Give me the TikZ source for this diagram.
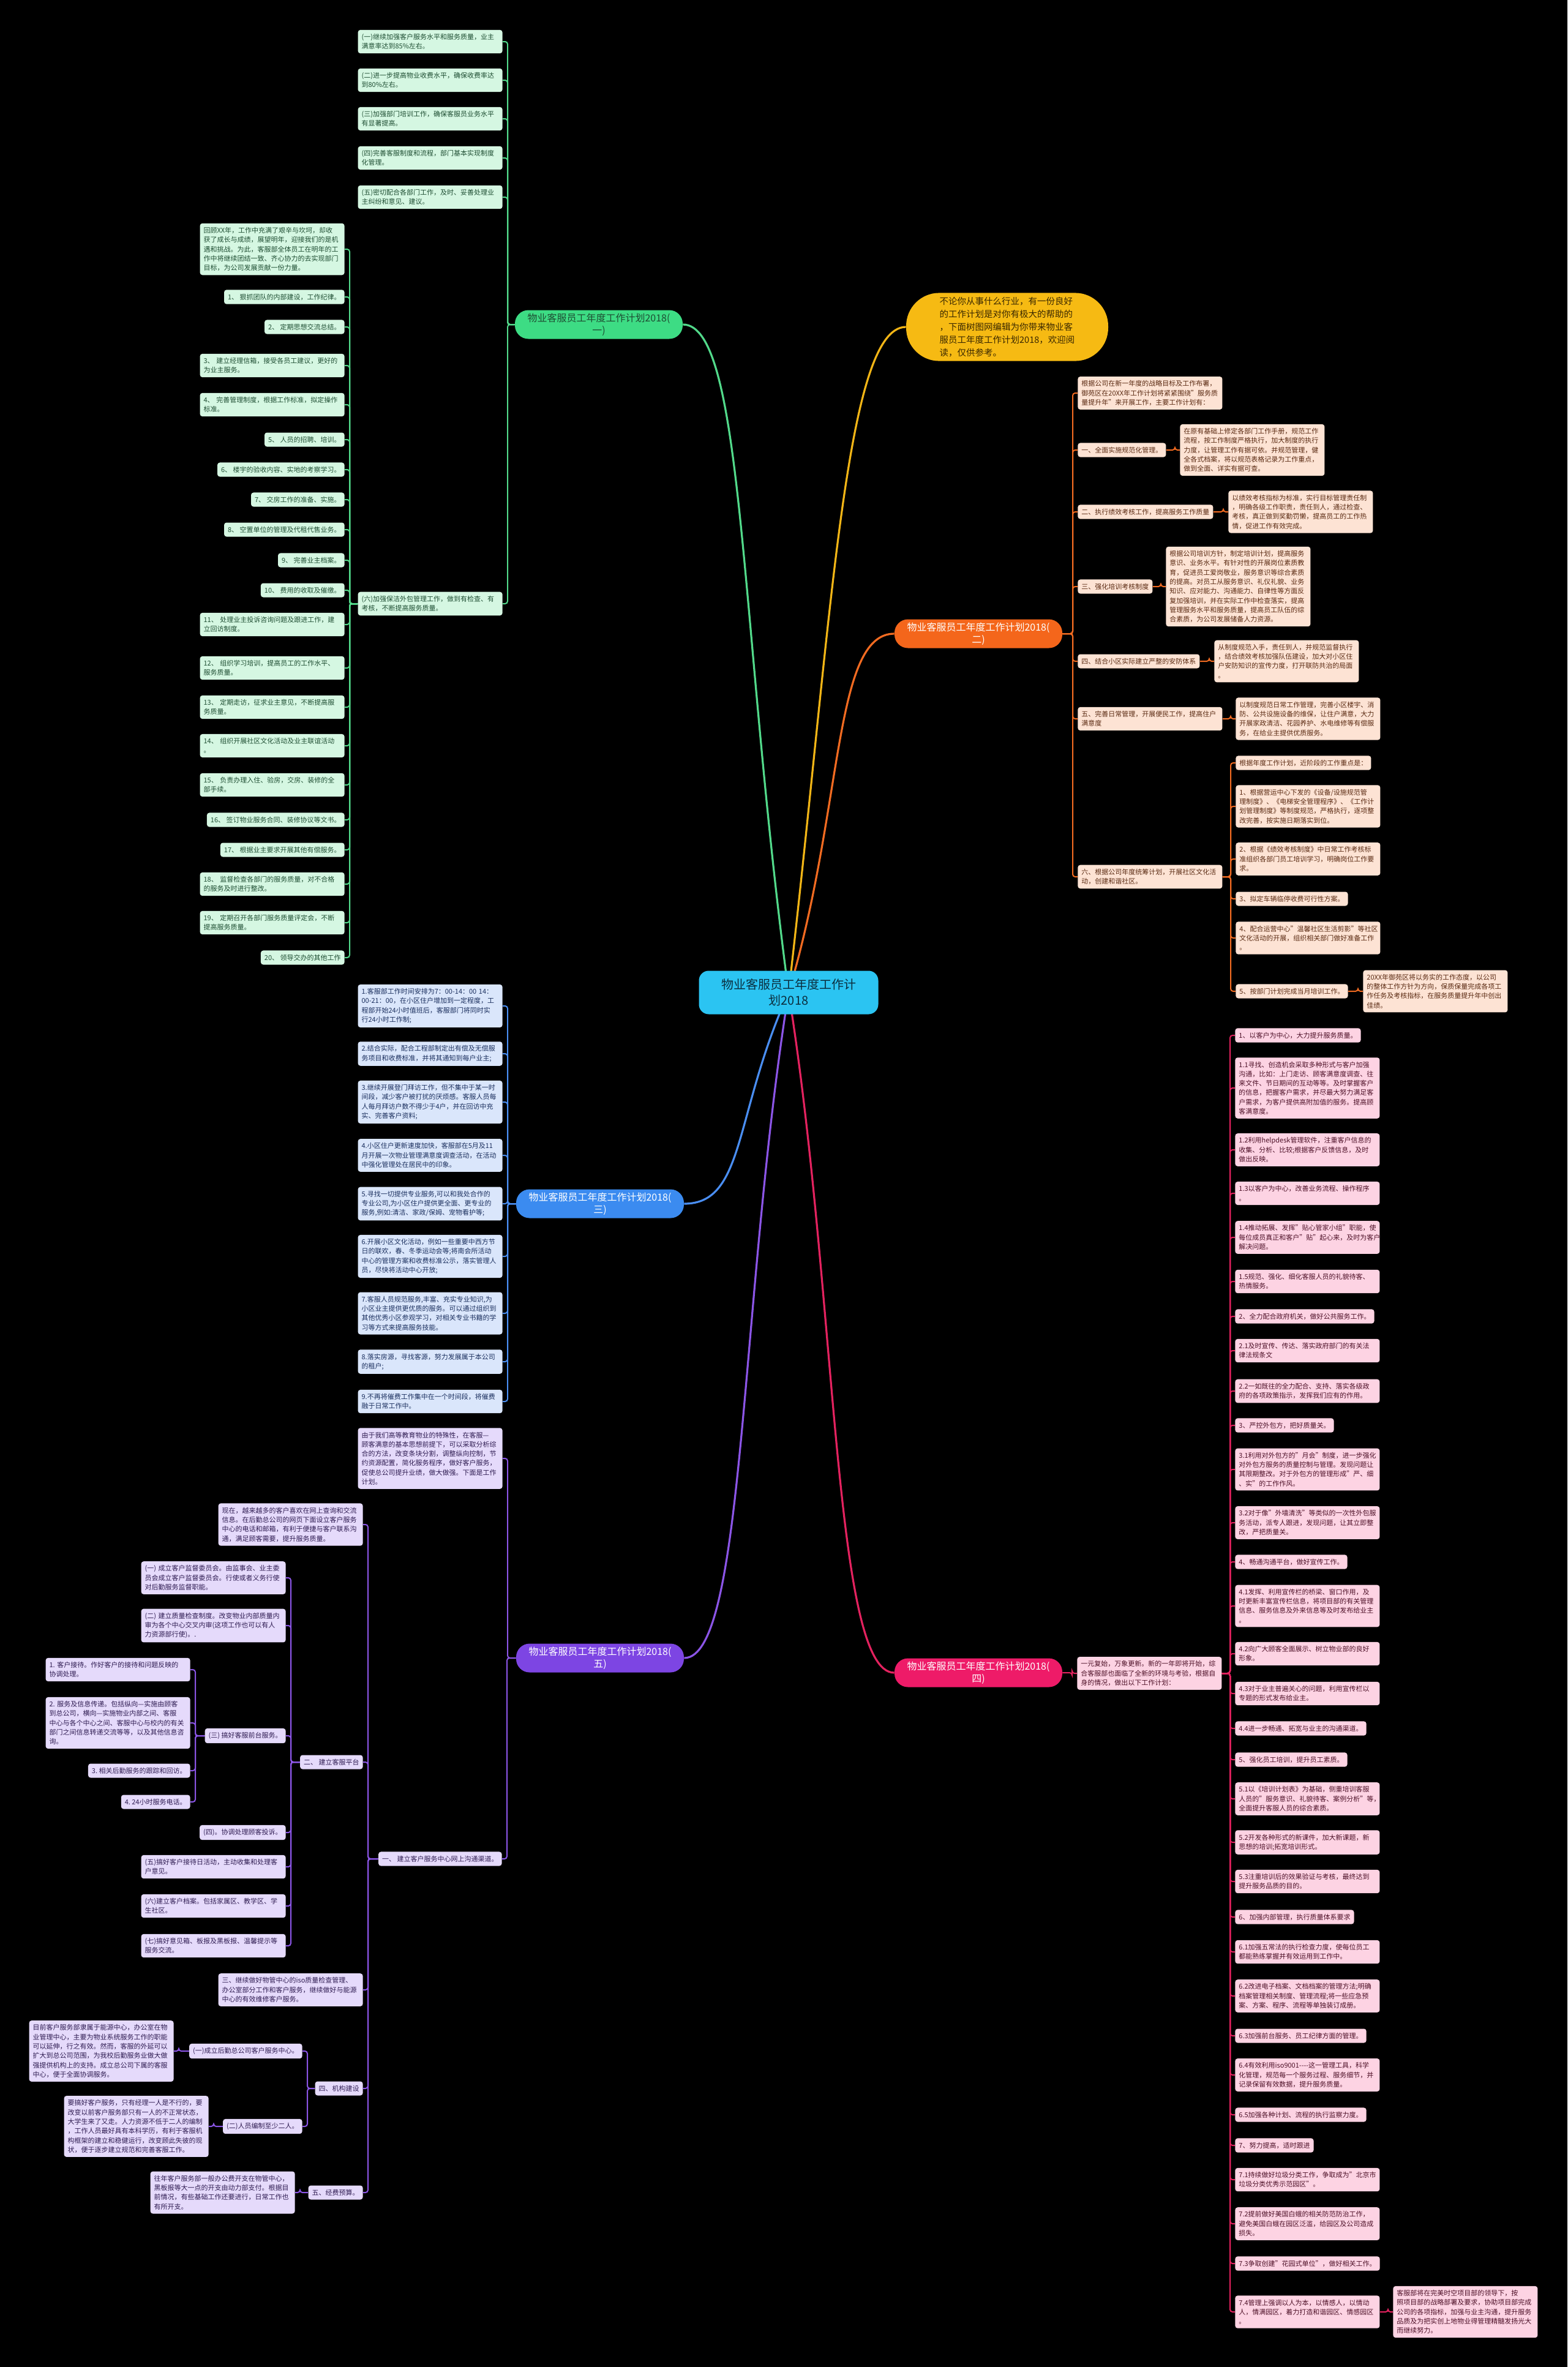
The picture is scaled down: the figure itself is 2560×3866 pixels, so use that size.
\documentclass[tikz,border=0pt]{standalone}
\usepackage{fontspec}
\setmainfont{Noto Sans CJK SC}
\usetikzlibrary{backgrounds}

\definecolor{GLine}{HTML}{52D98A}
\definecolor{GLeaf}{HTML}{D5F7E2}
\definecolor{GText}{HTML}{1E4D32}
\definecolor{GTop}{HTML}{3DDC84}
\definecolor{OLine}{HTML}{F26B21}
\definecolor{OLeaf}{HTML}{FDE3D4}
\definecolor{OText}{HTML}{5A2A12}
\definecolor{OTop}{HTML}{F4661B}
\definecolor{BLine}{HTML}{4A8EF2}
\definecolor{BLeaf}{HTML}{DAE6FB}
\definecolor{BText}{HTML}{1B2F5E}
\definecolor{BTop}{HTML}{3B8BF0}
\definecolor{PLine}{HTML}{8B55E6}
\definecolor{PLeaf}{HTML}{E5DAFB}
\definecolor{PText}{HTML}{2F1C52}
\definecolor{PTop}{HTML}{7D45E3}
\definecolor{KLine}{HTML}{E3225F}
\definecolor{KLeaf}{HTML}{FDD3E3}
\definecolor{KText}{HTML}{4D1027}
\definecolor{KTop}{HTML}{EE1B68}
\definecolor{YLine}{HTML}{F2B516}
\definecolor{YTop}{HTML}{F6BA13}
\definecolor{YText}{HTML}{3A2800}
\definecolor{RTop}{HTML}{2BC4F2}
\definecolor{RText}{HTML}{0B2E3E}

\tikzset{
  leaf/.style={rounded corners=2pt, inner xsep=3pt, inner ysep=3.2pt, align=left,
    font=\fontsize{5.5}{7.65}\selectfont},
  wide/.style={text width=112pt},
  gleaf/.style={leaf, fill=GLeaf, text=GText},
  oleaf/.style={leaf, fill=OLeaf, text=OText},
  bleaf/.style={leaf, fill=BLeaf, text=BText},
  pleaf/.style={leaf, fill=PLeaf, text=PText},
  kleaf/.style={leaf, fill=KLeaf, text=KText},
  topic/.style={rounded corners=11pt, minimum width=137pt, minimum height=23.5pt,
    inner sep=2pt, align=center, font=\fontsize{8}{10}\selectfont},
  trunk/.style={line width=1.6pt},
  gwire/.style={draw=GLine, line width=1pt, rounded corners=2pt},
  owire/.style={draw=OLine, line width=1pt, rounded corners=2pt},
  bwire/.style={draw=BLine, line width=1pt, rounded corners=2pt},
  pwire/.style={draw=PLine, line width=1pt, rounded corners=2pt},
  kwire/.style={draw=KLine, line width=1pt, rounded corners=2pt},
}

\begin{document}
\begin{tikzpicture}[x=0.5pt, y=-0.5pt]

  \begin{scope}[on background layer]
    \fill[black] (0,0) rectangle (2560,3866);
  \end{scope}
  \useasboundingbox (0,0) rectangle (2560,3866);

  % centre
  \node[rounded corners=8pt, fill=RTop, text=RText, minimum width=146.5pt, minimum height=35.5pt,
    align=center, font=\fontsize{10}{13}\selectfont] (root) at (1288,1621) {物业客服员工年度工作计\\划2018};

  \node[rounded corners=27pt, fill=YTop, text=YText, minimum width=165pt, minimum height=54pt,
    align=left, font=\fontsize{7.25}{10.5}\selectfont] (intro) at (1645,534)
    {不论你从事什么行业，有一份良好\\的工作计划是对你有极大的帮助的\\，下面树图网编辑为你带来物业客\\服员工年度工作计划2018，欢迎阅\\读，仅供参考。};

  % (一)
  \node[topic, fill=GTop, text=GText] (g) at (978,530) {物业客服员工年度工作计划2018(\\一)};
  \node[gleaf, wide, anchor=east] (g1) at (821,68) {(一)继续加强客户服务水平和服务质量，业主\\满意率达到85\%左右。};
  \node[gleaf, wide, anchor=east] (g2) at (821,131) {(二)进一步提高物业收费水平，确保收费率达\\到80\%左右。};
  \node[gleaf, wide, anchor=east] (g3) at (821,194) {(三)加强部门培训工作，确保客服员业务水平\\有显著提高。};
  \node[gleaf, wide, anchor=east] (g4) at (821,258) {(四)完善客服制度和流程，部门基本实现制度\\化管理。};
  \node[gleaf, wide, anchor=east] (g5) at (821,322) {(五)密切配合各部门工作，及时、妥善处理业\\主纠纷和意见、建议。};
  \node[gleaf, wide, anchor=east] (g6) at (821,986) {(六)加强保洁外包管理工作，做到有检查、有\\考核，不断提高服务质量。};
  \node[gleaf, wide, anchor=east] (g6a) at (563,407) {回顾XX年，工作中充满了艰辛与坎坷，却收\\获了成长与成绩，展望明年，迎接我们的是机\\遇和挑战。为此，客服部全体员工在明年的工\\作中将继续团结一致、齐心协力的去实现部门\\目标，为公司发展贡献一份力量。};
  \node[gleaf, anchor=east] (g6b1) at (563,485) {1、~狠抓团队的内部建设，工作纪律。};
  \node[gleaf, anchor=east] (g6b2) at (563,534) {2、~定期思想交流总结。};
  \node[gleaf, wide, anchor=east] (g6b3) at (563,597) {3、~建立经理信箱，接受各员工建议，更好的\\为业主服务。};
  \node[gleaf, wide, anchor=east] (g6b4) at (563,661) {4、~完善管理制度，根据工作标准，拟定操作\\标准。};
  \node[gleaf, anchor=east] (g6b5) at (563,718) {5、~人员的招聘、培训。};
  \node[gleaf, anchor=east] (g6b6) at (563,767) {6、~楼宇的验收内容、实地的考察学习。};
  \node[gleaf, anchor=east] (g6b7) at (563,816) {7、~交房工作的准备、实施。};
  \node[gleaf, anchor=east] (g6b8) at (563,865) {8、~空置单位的管理及代租代售业务。};
  \node[gleaf, anchor=east] (g6b9) at (563,915) {9、~完善业主档案。};
  \node[gleaf, anchor=east] (g6b10) at (563,964) {10、~费用的收取及催缴。};
  \node[gleaf, wide, anchor=east] (g6b11) at (563,1020) {11、~处理业主投诉咨询问题及跟进工作，建\\立回访制度。};
  \node[gleaf, wide, anchor=east] (g6b12) at (563,1091) {12、~组织学习培训，提高员工的工作水平、\\服务质量。};
  \node[gleaf, wide, anchor=east] (g6b13) at (563,1155) {13、~定期走访，征求业主意见，不断提高服\\务质量。};
  \node[gleaf, wide, anchor=east] (g6b14) at (563,1218) {14、~组织开展社区文化活动及业主联谊活动\\。};
  \node[gleaf, wide, anchor=east] (g6b15) at (563,1282) {15、~负责办理入住、验房，交房、装修的全\\部手续。};
  \node[gleaf, anchor=east] (g6b16) at (563,1339) {16、~签订物业服务合同、装修协议等文书。};
  \node[gleaf, anchor=east] (g6b17) at (563,1388) {17、~根据业主要求开展其他有偿服务。};
  \node[gleaf, wide, anchor=east] (g6b18) at (563,1444) {18、~监督检查各部门的服务质量，对不合格\\的服务及时进行整改。};
  \node[gleaf, wide, anchor=east] (g6b19) at (563,1507) {19、~定期召开各部门服务质量评定会，不断\\提高服务质量。};
  \node[gleaf, anchor=east] (g6b20) at (563,1564) {20、~领导交办的其他工作};

  % (二)
  \node[topic, fill=OTop, text=white] (o) at (1598,1035) {物业客服员工年度工作计划2018(\\二)};
  \node[oleaf, wide, anchor=west] (o0) at (1760,642) {根据公司在新一年度的战略目标及工作布署，\\御苑区在20XX年工作计划将紧紧围绕"服务质\\量提升年"来开展工作，主要工作计划有：};
  \node[oleaf, anchor=west] (o1) at (1760,735) {一、全面实施规范化管理。};
  \node[oleaf, wide, anchor=west] (o1d) at (1927,735) {在原有基础上修定各部门工作手册，规范工作\\流程，按工作制度严格执行，加大制度的执行\\力度，让管理工作有据可依。并规范管理，健\\全各式档案，将以规范表格记录为工作重点，\\做到全面、详实有据可查。};
  \node[oleaf, anchor=west] (o2) at (1760,836) {二、执行绩效考核工作，提高服务工作质量};
  \node[oleaf, wide, anchor=west] (o2d) at (2006,836) {以绩效考核指标为标准，实行目标管理责任制\\，明确各级工作职责，责任到人，通过检查、\\考核，真正做到奖勤罚懒，提高员工的工作热\\情，促进工作有效完成。};
  \node[oleaf, anchor=west] (o3) at (1760,958) {三、强化培训考核制度};
  \node[oleaf, wide, anchor=west] (o3d) at (1904,958) {根据公司培训方针，制定培训计划，提高服务\\意识、业务水平。有针对性的开展岗位素质教\\育，促进员工爱岗敬业，服务意识等综合素质\\的提高。对员工从服务意识、礼仪礼貌、业务\\知识、应对能力、沟通能力、自律性等方面反\\复加强培训，并在实际工作中检查落实，提高\\管理服务水平和服务质量，提高员工队伍的综\\合素质，为公司发展储备人力资源。};
  \node[oleaf, anchor=west] (o4) at (1760,1080) {四、结合小区实际建立严整的安防体系};
  \node[oleaf, wide, anchor=west] (o4d) at (1983,1080) {从制度规范入手，责任到人，并规范监督执行\\，结合绩效考核加强队伍建设，加大对小区住\\户安防知识的宣传力度，打开联防共治的局面\\。};
  \node[oleaf, wide, anchor=west] (o5) at (1760,1174) {五、完善日常管理，开展便民工作，提高住户\\满意度};
  \node[oleaf, wide, anchor=west] (o5d) at (2018,1174) {以制度规范日常工作管理，完善小区楼宇、消\\防、公共设施设备的维保，让住户满意，大力\\开展家政清洁、花园养护、水电维修等有偿服\\务，在给业主提供优质服务。};
  \node[oleaf, wide, anchor=west] (o6) at (1760,1432) {六、根据公司年度统筹计划，开展社区文化活\\动，创建和谐社区。};
  \node[oleaf, anchor=west] (o6a) at (2018,1246) {根据年度工作计划，近阶段的工作重点是：};
  \node[oleaf, wide, anchor=west] (o6b) at (2018,1317) {1、根据营运中心下发的《设备/设施规范管\\理制度》、《电梯安全管理程序》、《工作计\\划管理制度》等制度规范，严格执行，逐项整\\改完善，按实施日期落实到位。};
  \node[oleaf, wide, anchor=west] (o6c) at (2018,1403) {2、根据《绩效考核制度》中日常工作考核标\\准组织各部门员工培训学习，明确岗位工作要\\求。};
  \node[oleaf, anchor=west] (o6d) at (2018,1468) {3、拟定车辆临停收费可行性方案。};
  \node[oleaf, wide, anchor=west] (o6e) at (2018,1532) {4、配合运营中心"温馨社区生活剪影"等社区\\文化活动的开展，组织相关部门做好准备工作\\。};
  \node[oleaf, anchor=west] (o6f) at (2018,1619) {5、按部门计划完成当月培训工作。};
  \node[oleaf, wide, anchor=west] (o6g) at (2226,1619) {20XX年御苑区将以务实的工作态度，以公司\\的整体工作方针为方向，保质保量完成各项工\\作任务及考核指标，在服务质量提升年中创出\\佳绩。};

  % (三)
  \node[topic, fill=BTop, text=white] (b) at (980,1966) {物业客服员工年度工作计划2018(\\三)};
  \node[bleaf, wide, anchor=east] (b1) at (821,1643) {1.客服部工作时间安排为7：00-14：00~14：\\00-21：00，在小区住户增加到一定程度，工\\程部开始24小时值班后，客服部门将同时实\\行24小时工作制;};
  \node[bleaf, wide, anchor=east] (b2) at (821,1721) {2.结合实际，配合工程部制定出有偿及无偿服\\务项目和收费标准，并将其通知到每户业主;};
  \node[bleaf, wide, anchor=east] (b3) at (821,1800) {3.继续开展登门拜访工作，但不集中于某一时\\间段，减少客户被打扰的厌烦感。客服人员每\\人每月拜访户数不得少于4户，并在回访中充\\实、完善客户资料;};
  \node[bleaf, wide, anchor=east] (b4) at (821,1887) {4.小区住户更新速度加快，客服部在5月及11\\月开展一次物业管理满意度调查活动，在活动\\中强化管理处在居民中的印象。};
  \node[bleaf, wide, anchor=east] (b5) at (821,1966) {5.寻找一切提供专业服务,可以和我处合作的\\专业公司,为小区住户提供更全面、更专业的\\服务,例如:清洁、家政/保姆、宠物看护等;};
  \node[bleaf, wide, anchor=east] (b6) at (821,2052) {6.开展小区文化活动，例如一些重要中西方节\\日的联欢，春、冬季运动会等;将南会所活动\\中心的管理方案和收费标准公示，落实管理人\\员，尽快将活动中心开放;};
  \node[bleaf, wide, anchor=east] (b7) at (821,2145) {7.客服人员规范服务,丰富、充实专业知识,为\\小区业主提供更优质的服务。可以通过组织到\\其他优秀小区参观学习，对相关专业书籍的学\\习等方式来提高服务技能。};
  \node[bleaf, wide, anchor=east] (b8) at (821,2224) {8.落实房源，寻找客源，努力发展属于本公司\\的租户;};
  \node[bleaf, wide, anchor=east] (b9) at (821,2289) {9.不再将催费工作集中在一个时间段，将催费\\融于日常工作中。};

  % (五)
  \node[topic, fill=PTop, text=white] (p) at (980,2708) {物业客服员工年度工作计划2018(\\五)};
  \node[pleaf, wide, anchor=east] (p1) at (821,2382) {由于我们高等教育物业的特殊性，在客服—\\顾客满意的基本思想前提下，可以采取分析综\\合的方法，改变条块分割，调整纵向控制，节\\约资源配置，简化服务程序，做好客户服务，\\促使总公司提升业绩，做大做强。下面是工作\\计划。};
  \node[pleaf, anchor=east] (p2) at (820,3036) {一、~建立客户服务中心网上沟通渠道。};
  \node[pleaf, wide, anchor=east] (p2a) at (593,2490) {现在，越来越多的客户喜欢在网上查询和交流\\信息。在后勤总公司的网页下面设立客户服务\\中心的电话和邮箱，有利于便捷与客户联系沟\\通，满足顾客需要，提升服务质量。};
  \node[pleaf, anchor=east] (p2b) at (593,2878) {二、~建立客服平台};
  \node[pleaf, wide, anchor=east] (p2b1) at (467,2577) {(一)~成立客户监督委员会。由监事会、业主委\\员会成立客户监督委员会。行使或者义务行使\\对后勤服务监督职能。};
  \node[pleaf, wide, anchor=east] (p2b2) at (467,2655) {(二)~建立质量检查制度。改变物业内部质量内\\审为各个中心交叉内审(这项工作也可以有人\\力资源部行使)。.};
  \node[pleaf, anchor=east] (p2b3) at (467,2835) {(三)~搞好客服前台服务。};
  \node[pleaf, wide, anchor=east] (p2b3a) at (311,2727) {1.~客户接待。作好客户的接待和问题反映的\\协调处理。};
  \node[pleaf, wide, anchor=east] (p2b3b) at (311,2814) {2.~服务及信息传递。包括纵向—实施由顾客\\到总公司，横向—实施物业内部之间、客服\\中心与各个中心之间、客服中心与校内的有关\\部门之间信息转递交流等等，以及其他信息咨\\询。};
  \node[pleaf, anchor=east] (p2b3c) at (311,2892) {3.~相关后勤服务的跟踪和回访。};
  \node[pleaf, anchor=east] (p2b3d) at (311,2943) {4.~24小时服务电话。};
  \node[pleaf, anchor=east] (p2b4) at (467,2993) {(四)。协调处理顾客投诉。};
  \node[pleaf, wide, anchor=east] (p2b5) at (467,3049) {(五)搞好客户接待日活动，主动收集和处理客\\户意见。};
  \node[pleaf, wide, anchor=east] (p2b6) at (467,3113) {(六)建立客户档案。包括家属区、教学区、学\\生社区。};
  \node[pleaf, wide, anchor=east] (p2b7) at (467,3178) {(七)搞好意见箱、板报及黑板报、温馨提示等\\服务交流。};
  \node[pleaf, wide, anchor=east] (p2c) at (593,3250) {三、继续做好物管中心的iso质量检查管理、\\办公室部分工作和客户服务，继续做好与能源\\中心的有效维修客户服务。};
  \node[pleaf, anchor=east] (p2d) at (593,3411) {四、机构建设};
  \node[pleaf, anchor=east] (p2d1) at (494,3350) {(一)成立后勤总公司客户服务中心。};
  \node[pleaf, wide, anchor=east] (p2d1a) at (284,3350) {目前客户服务部隶属于能源中心，办公室在物\\业管理中心，主要为物业系统服务工作的职能\\可以延伸，行之有效。然而，客服的外延可以\\扩大到总公司范围，为我校后勤服务业做大做\\强提供机构上的支持。成立总公司下属的客服\\中心，便于全面协调服务。};
  \node[pleaf, anchor=east] (p2d2) at (494,3473) {(二)人员编制至少二人。};
  \node[pleaf, wide, anchor=east] (p2d2a) at (341,3473) {要搞好客户服务，只有经理一人是不行的，要\\改变以前客户服务部只有一人的不正常状态，\\大学生来了又走。人力资源不低于二人的编制\\，工作人员最好具有本科学历，有利于客服机\\构框架的建立和稳健运行，改变顾此失彼的现\\状，便于逐步建立规范和完善客服工作。};
  \node[pleaf, anchor=east] (p2e) at (593,3581) {五、经费预算。};
  \node[pleaf, wide, anchor=east] (p2e1) at (482,3581) {往年客户服务部一般办公费开支在物管中心，\\黑板报等大一点的开支由动力部支付。根据目\\前情况，有些基础工作还要进行，日常工作也\\有所开支。};

  % (四)
  \node[topic, fill=KTop, text=white] (k) at (1598,2732) {物业客服员工年度工作计划2018(\\四)};
  \node[kleaf, wide, anchor=west] (k1) at (1759,2733) {一元复始，万象更新。新的一年即将开始，综\\合客服部也面临了全新的环境与考验，根据自\\身的情况，做出以下工作计划：};
  \node[kleaf, anchor=west] (k1n1) at (2017,1691) {1、以客户为中心，大力提升服务质量。};
  \node[kleaf, wide, anchor=west] (k1n2) at (2017,1777) {1.1寻找、创造机会采取多种形式与客户加强\\沟通，比如：上门走访、顾客满意度调查、往\\来文件、节日期间的互动等等。及时掌握客户\\的信息，把握客户需求，并尽最大努力满足客\\户需求，为客户提供高附加值的服务。提高顾\\客满意度。};
  \node[kleaf, wide, anchor=west] (k1n3) at (2017,1878) {1.2利用helpdesk管理软件，注重客户信息的\\收集、分析、比较;根据客户反馈信息，及时\\做出反映。};
  \node[kleaf, wide, anchor=west] (k1n4) at (2017,1949) {1.3以客户为中心，改善业务流程、操作程序\\。};
  \node[kleaf, wide, anchor=west] (k1n5) at (2017,2021) {1.4推动拓展、发挥"贴心管家小组"职能，使\\每位成员真正和客户"贴"起心来，及时为客户\\解决问题。};
  \node[kleaf, wide, anchor=west] (k1n6) at (2017,2093) {1.5规范、强化、细化客服人员的礼貌待客、\\热情服务。};
  \node[kleaf, anchor=west] (k1n7) at (2017,2150) {2、全力配合政府机关，做好公共服务工作。};
  \node[kleaf, wide, anchor=west] (k1n8) at (2017,2206) {2.1及时宣传、传达、落实政府部门的有关法\\律法规条文};
  \node[kleaf, wide, anchor=west] (k1n9) at (2017,2272) {2.2一如既往的全力配合、支持、落实各级政\\府的各项政策指示，发挥我们应有的作用。};
  \node[kleaf, anchor=west] (k1n10) at (2017,2328) {3、严控外包方，把好质量关。};
  \node[kleaf, wide, anchor=west] (k1n11) at (2017,2400) {3.1利用对外包方的"月会"制度，进一步强化\\对外包方服务的质量控制与管理。发现问题让\\其限期整改。对于外包方的管理形成"严、细\\、实"的工作作风。};
  \node[kleaf, wide, anchor=west] (k1n12) at (2017,2487) {3.2对于像"外墙清洗"等类似的一次性外包服\\务活动，派专人跟进，发现问题，让其立即整\\改，严把质量关。};
  \node[kleaf, anchor=west] (k1n13) at (2017,2551) {4、畅通沟通平台，做好宣传工作。};
  \node[kleaf, wide, anchor=west] (k1n14) at (2017,2623) {4.1发挥、利用宣传栏的桥梁、窗口作用，及\\时更新丰富宣传栏信息，将项目部的有关管理\\信息、服务信息及外来信息等及时发布给业主\\。};
  \node[kleaf, wide, anchor=west] (k1n15) at (2017,2701) {4.2向广大顾客全面展示、树立物业部的良好\\形象。};
  \node[kleaf, wide, anchor=west] (k1n16) at (2017,2766) {4.3对于业主普遍关心的问题，利用宣传栏以\\专题的形式发布给业主。};
  \node[kleaf, anchor=west] (k1n17) at (2017,2823) {4.4进一步畅通、拓宽与业主的沟通渠道。};
  \node[kleaf, anchor=west] (k1n18) at (2017,2874) {5、强化员工培训，提升员工素质。};
  \node[kleaf, wide, anchor=west] (k1n19) at (2017,2938) {5.1以《培训计划表》为基础，侧重培训客服\\人员的"服务意识、礼貌待客、案例分析"等，\\全面提升客服人员的综合素质。};
  \node[kleaf, wide, anchor=west] (k1n20) at (2017,3009) {5.2开发各种形式的新课件，加大新课题，新\\思想的培训;拓宽培训形式。};
  \node[kleaf, wide, anchor=west] (k1n21) at (2017,3073) {5.3注重培训后的效果验证与考核，最终达到\\提升服务品质的目的。};
  \node[kleaf, anchor=west] (k1n22) at (2017,3131) {6、加强内部管理，执行质量体系要求};
  \node[kleaf, wide, anchor=west] (k1n23) at (2017,3188) {6.1加强五常法的执行检查力度，使每位员工\\都能熟练掌握并有效运用到工作中。};
  \node[kleaf, wide, anchor=west] (k1n24) at (2017,3260) {6.2改进电子档案、文档档案的管理方法;明确\\档案管理相关制度、管理流程;将一些应急预\\案、方案、程序、流程等单独装订成册。};
  \node[kleaf, anchor=west] (k1n25) at (2017,3325) {6.3加强前台服务、员工纪律方面的管理。};
  \node[kleaf, wide, anchor=west] (k1n26) at (2017,3389) {6.4有效利用iso9001{-}{-}{-}{-}这一管理工具，科学\\化管理，规范每一个服务过程、服务细节，并\\记录保留有效数据，提升服务质量。};
  \node[kleaf, anchor=west] (k1n27) at (2017,3454) {6.5加强各种计划、流程的执行监察力度。};
  \node[kleaf, anchor=west] (k1n28) at (2017,3504) {7、努力提高，适时跟进};
  \node[kleaf, wide, anchor=west] (k1n29) at (2017,3560) {7.1持续做好垃圾分类工作，争取成为"北京市\\垃圾分类优秀示范园区"。};
  \node[kleaf, wide, anchor=west] (k1n30) at (2017,3632) {7.2提前做好美国白蛾的相关防范防治工作，\\避免美国白蛾在园区泛滥，给园区及公司造成\\损失。};
  \node[kleaf, anchor=west] (k1n31) at (2017,3697) {7.3争取创建"花园式单位"，做好相关工作。};
  \node[kleaf, wide, anchor=west] (k1n32) at (2017,3776) {7.4管理上强调以人为本，以情感人，以情动\\人，情满园区，着力打造和谐园区、情感园区\\。};
  \node[kleaf, wide, anchor=west] (kz) at (2275,3776) {客服部将在完美时空项目部的领导下，按\\照项目部的战略部署及要求，协助项目部完成\\公司的各项指标，加强与业主沟通，提升服务\\品质及为把实创上地物业得管理精髓发扬光大\\而继续努力。};

  % connectors
  \begin{scope}[on background layer]
    \draw[trunk, GLine] (root.center) .. controls +(-80,-600) and +(100,0) .. (g.east);
    \draw[trunk, YLine] (root.center) .. controls +(70,-600) and +(-100,0) .. (intro.west);
    \draw[trunk, OLine] (root.center) .. controls +(90,-300) and +(-100,0) .. (o.west);
    \draw[trunk, BLine] (root.center) .. controls +(-90,200) and +(100,0) .. (b.east);
    \draw[trunk, PLine] (root.center) .. controls +(-80,500) and +(100,0) .. (p.east);
    \draw[trunk, KLine] (root.center) .. controls +(80,500) and +(-100,0) .. (k.west);

    \foreach \n in {g1,g2,g3,g4,g5,g6} \draw[gwire] (\n.east) -- ++(8,0) |- (g.west);
    \draw[gwire] (g6a.east) -- ++(8,0) |- (g6.west);
    \foreach \i in {1,...,20} \draw[gwire] (g6b\i.east) -- ++(8,0) |- (g6.west);

    \foreach \n in {o0,o1,o2,o3,o4,o5,o6} \draw[owire] (\n.west) -- ++(-8,0) |- (o.east);
    \draw[owire] (o1d.west) -- ++(-8,0) |- (o1.east);
    \draw[owire] (o2d.west) -- ++(-8,0) |- (o2.east);
    \draw[owire] (o3d.west) -- ++(-8,0) |- (o3.east);
    \draw[owire] (o4d.west) -- ++(-8,0) |- (o4.east);
    \draw[owire] (o5d.west) -- ++(-8,0) |- (o5.east);
    \foreach \n in {a,b,c,d,e,f} \draw[owire] (o6\n.west) -- ++(-8,0) |- (o6.east);
    \draw[owire] (o6g.west) -- ++(-8,0) |- (o6f.east);

    \foreach \i in {1,...,9} \draw[bwire] (b\i.east) -- ++(8,0) |- (b.west);

    \foreach \n in {p1,p2} \draw[pwire] (\n.east) -- ++(8,0) |- (p.west);
    \foreach \n in {a,b,c,d,e} \draw[pwire] (p2\n.east) -- ++(8,0) |- (p2.west);
    \foreach \i in {1,...,7} \draw[pwire] (p2b\i.east) -- ++(8,0) |- (p2b.west);
    \foreach \n in {a,b,c,d} \draw[pwire] (p2b3\n.east) -- ++(8,0) |- (p2b3.west);
    \foreach \i in {1,2} \draw[pwire] (p2d\i.east) -- ++(8,0) |- (p2d.west);
    \draw[pwire] (p2d1a.east) -- ++(8,0) |- (p2d1.west);
    \draw[pwire] (p2d2a.east) -- ++(8,0) |- (p2d2.west);
    \draw[pwire] (p2e1.east) -- ++(8,0) |- (p2e.west);

    \draw[kwire] (k1.west) -- ++(-8,0) |- (k.east);
    \foreach \i in {1,...,32} \draw[kwire] (k1n\i.west) -- ++(-8,0) |- (k1.east);
    \draw[kwire] (kz.west) -- ++(-8,0) |- (k1n32.east);
  \end{scope}

\end{tikzpicture}
\end{document}
